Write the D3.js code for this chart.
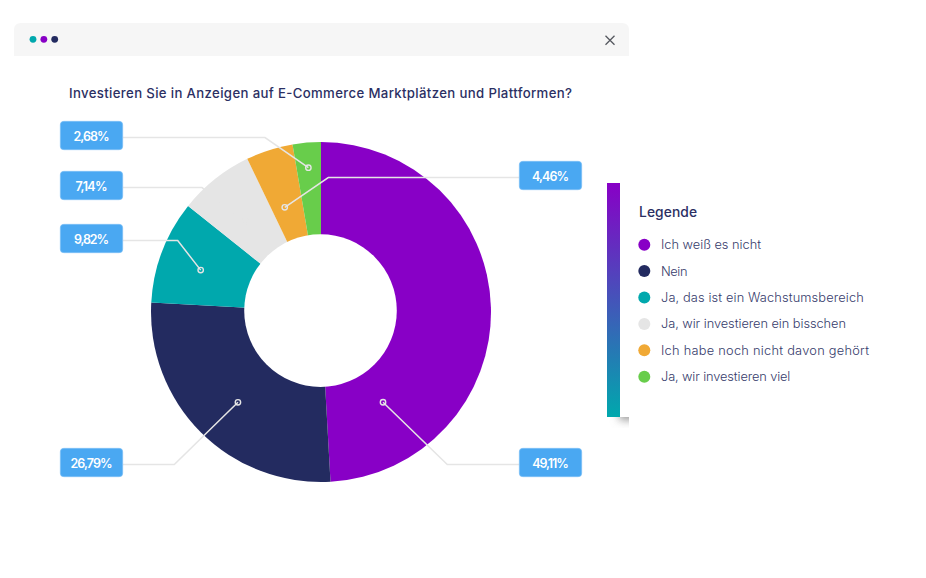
<!DOCTYPE html>
<html lang="de">
<head>
<meta charset="utf-8">
<script src="https://cdn.jsdelivr.net/npm/d3@7"></script>
<style>
  html, body { margin: 0; padding: 0; background: #fff; }
  svg { display: block; }
  text { font-family: Inter, "Noto Sans", sans-serif; }
</style>
</head>
<body>
<script>
// Data
const categories = ["Ich weiß es nicht", "Nein", "Ja, das ist ein Wachstumsbereich", "Ja, wir investieren ein bisschen", "Ich habe noch nicht davon gehört", "Ja, wir investieren viel"];
const values = [49.11, 26.79, 9.82, 7.14, 4.46, 2.68];
const colors = ["#8800c6", "#232b60", "#00a8ad", "#e5e5e5", "#f0a935", "#68cd4b"];
const title = "Investieren Sie in Anzeigen auf E-Commerce Marktplätzen und Plattformen?";

// Callout layout: dot as angle (deg) + radius from pie centre, then elbow and badge
const calloutAngle = [145.5, 222.6, 289.2, 320, 340.9, 355];
const calloutRadius = [109.5, 122.7, 127.4, 118, 110.8, 144.9];
const calloutElbowX = [447.3, 174.3, 177.7, 202, 328.3, 265];
const badgeLeft = [519, 60, 60, 60, 519, 60];
const badgeTop = [448, 448, 224, 171, 161, 121];

// Poppins is not installed, so text is fitted to the widths it has in the picture
const badgeTextW = [36.7, 42, 35, 32, 37, 36];
const legendTextW = [100, 26.5, 202.7, 185, 208, 129.3];

const width = 926, height = 578;
const cx = 321, cy = 312, outerR = 170;
const holeX = 320.5, holeY = 310.6, holeR = 76.3;

const svg = d3.select("body").append("svg")
    .attr("width", width)
    .attr("height", height)
    .attr("viewBox", [0, 0, width, height]);

const defs = svg.append("defs");

const barGrad = defs.append("linearGradient")
    .attr("id", "barGrad").attr("x1", 0).attr("y1", 0).attr("x2", 0).attr("y2", 1);
barGrad.append("stop").attr("offset", "0%").attr("stop-color", "#8800c6");
barGrad.append("stop").attr("offset", "100%").attr("stop-color", "#00a8ad");

defs.append("filter")
    .attr("id", "blur").attr("x", "-50%").attr("y", "-50%").attr("width", "200%").attr("height", "200%")
    .append("feGaussianBlur").attr("stdDeviation", 4);

defs.append("clipPath")
    .attr("id", "shadowClip")
    .append("rect")
    .attr("x", 600).attr("y", 417).attr("width", 29).attr("height", 16);

// Window header
svg.append("path")
    .attr("d", "M14,56 V30 Q14,23 21,23 H622 Q629,23 629,30 V56 Z")
    .attr("fill", "#f6f6f6");

svg.append("g")
    .selectAll("circle")
    .data(["#00a8ad", "#8800c6", "#232b60"])
    .join("circle")
    .attr("cx", (d, i) => 33 + i * 10.85)
    .attr("cy", 39.3)
    .attr("r", 3.4)
    .attr("fill", d => d);

svg.append("path")
    .attr("d", "M605.5,35.8 L614.5,44.8 M614.5,35.8 L605.5,44.8")
    .attr("stroke", "#55585f")
    .attr("stroke-width", 1.3)
    .attr("fill", "none");

// Title
svg.append("text")
    .attr("x", 69)
    .attr("y", 98.3)
    .attr("font-size", 13.2)
    .attr("font-weight", 500)
    .attr("fill", "#2b2f63")
    .attr("textLength", 503)
    .attr("lengthAdjust", "spacing")
    .text(title);

// Donut, the hole sits a little off the pie centre in the picture
const pie = d3.pie().sort(null).value(d => d);
const arc = d3.arc().innerRadius(0).outerRadius(outerR);

const chart = svg.append("g").attr("transform", `translate(${cx},${cy})`);

chart.selectAll("path")
    .data(pie(values))
    .join("path")
    .attr("d", arc)
    .attr("fill", (d, i) => colors[i]);

svg.append("circle")
    .attr("cx", holeX)
    .attr("cy", holeY)
    .attr("r", holeR)
    .attr("fill", "#fff");

// Callouts
const fmt = d3.formatLocale({ decimal: ",", thousands: ".", grouping: [3], currency: ["", "€"] }).format(".2f");
const badgeW = 63, badgeH = 29;

const callouts = values.map((v, i) => {
    const p = d3.pointRadial(calloutAngle[i] * Math.PI / 180, calloutRadius[i]);
    const y = badgeTop[i] + 16.6;
    const edge = badgeLeft[i] === 60 ? badgeLeft[i] + badgeW : badgeLeft[i];
    return { v, textW: badgeTextW[i], dot: [cx + p[0], cy + p[1]], elbow: [calloutElbowX[i], y], edge: [edge, y], left: badgeLeft[i], top: badgeTop[i] };
});

const line = d3.line();

svg.append("g")
    .selectAll("path")
    .data(callouts)
    .join("path")
    .attr("d", d => line([d.edge, d.elbow, d.dot]))
    .attr("fill", "none")
    .attr("stroke", "#e5e5e5")
    .attr("stroke-width", 1.5);

svg.append("g")
    .selectAll("circle")
    .data(callouts)
    .join("circle")
    .attr("cx", d => d.dot[0])
    .attr("cy", d => d.dot[1])
    .attr("r", 2.7)
    .attr("fill", "none")
    .attr("stroke", "#e5e5e5")
    .attr("stroke-width", 1.4);

const badge = svg.append("g")
    .selectAll("g")
    .data(callouts)
    .join("g")
    .attr("transform", d => `translate(${d.left},${d.top})`);

badge.append("rect")
    .attr("x", 0.3)
    .attr("y", 0.3)
    .attr("width", badgeW - 0.6)
    .attr("height", badgeH - 0.6)
    .attr("rx", 3.5)
    .attr("fill", "#4aa8f2")
    .attr("stroke", "#7cc0f6")
    .attr("stroke-width", 0.6);

badge.append("text")
    .attr("x", badgeW / 2)
    .attr("y", badgeH / 2 + 5.5)
    .attr("text-anchor", "middle")
    .attr("font-size", 12.5)
    .attr("font-weight", 600)
    .attr("fill", "#fff")
    .attr("textLength", d => d.textW)
    .attr("lengthAdjust", "spacing")
    .text(d => fmt(d.v) + "%");

// Gradient bar and its shadow
svg.append("g")
    .attr("clip-path", "url(#shadowClip)")
    .append("rect")
    .attr("x", 619).attr("y", 405).attr("width", 40).attr("height", 15)
    .attr("fill", "#9a9a9a")
    .attr("filter", "url(#blur)");

svg.append("rect")
    .attr("x", 607).attr("y", 183).attr("width", 13).attr("height", 234)
    .attr("fill", "url(#barGrad)");

// Legend
svg.append("text")
    .attr("x", 639)
    .attr("y", 216.5)
    .attr("font-size", 13.8)
    .attr("font-weight", 500)
    .attr("fill", "#2b2f63")
    .attr("textLength", 58)
    .attr("lengthAdjust", "spacing")
    .text("Legende");

const legendY = d3.scalePoint().domain(categories).range([244.7, 376.7]);

const legend = svg.append("g")
    .selectAll("g")
    .data(categories)
    .join("g")
    .attr("transform", d => `translate(0,${legendY(d)})`);

legend.append("circle")
    .attr("cx", 644.3)
    .attr("r", 6)
    .attr("fill", (d, i) => colors[i]);

legend.append("text")
    .attr("x", 661)
    .attr("y", 4.5)
    .attr("font-size", 12.8)
    .attr("font-weight", 300)
    .attr("fill", "#363b6b")
    .attr("textLength", (d, i) => legendTextW[i])
    .attr("lengthAdjust", "spacing")
    .text(d => d);
</script>
</body>
</html>
